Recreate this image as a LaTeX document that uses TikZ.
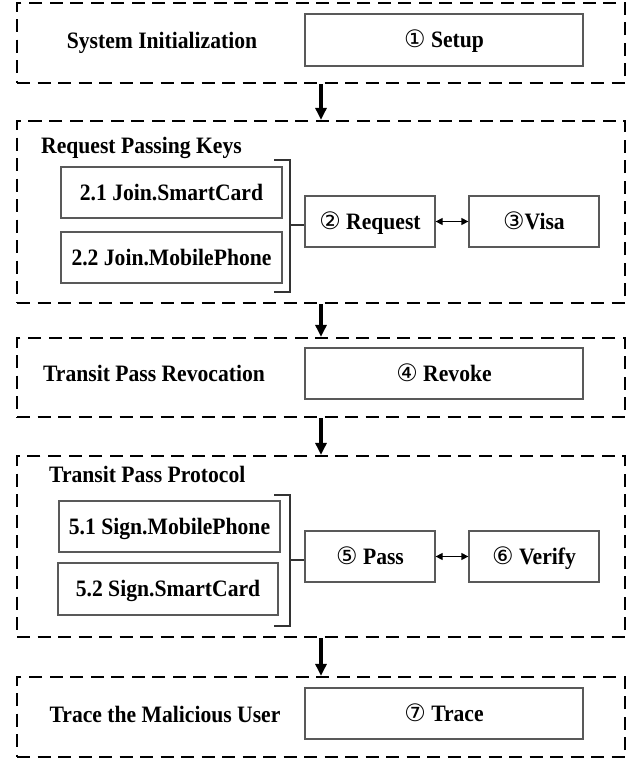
\documentclass[tikz,border=0pt]{standalone}
\usepackage{fontspec}
\setmainfont{Liberation Serif}[FakeStretch=0.92]
\newfontfamily\circfont{DejaVu Sans}
\usetikzlibrary{arrows.meta}
\newcommand{\cn}[1]{{\circfont\mdseries\fontsize{24}{26}\selectfont #1}}
\begin{document}
\begin{tikzpicture}[x=1pt,y=-1pt,
  phase/.style={draw, line width=2.3pt, dash pattern=on 13pt off 7.5pt, minimum width=608pt, inner sep=0pt},
  op/.style={draw=black!65, line width=1.3pt, fill=white, inner sep=0pt, minimum height=51pt, text height=15pt, text depth=0pt, font=\fontsize{23.5}{26}\selectfont\bfseries},
  lbl/.style={font=\fontsize{23.5}{26}\selectfont\bfseries, inner sep=0pt},
  flow/.style={line width=3.2pt, -{Triangle[length=12pt,width=11pt]}},
  dbl/.style={line width=1.3pt, {Triangle[length=7pt,width=7pt]}-{Triangle[length=7pt,width=7pt]}},
  brk/.style={line width=1.3pt, draw=black!80}]
\useasboundingbox (0,0) rectangle (643,764);
% phases
\node[phase, minimum height=80pt]  (p1) at (321,43) {};
\node[phase, minimum height=182pt] (p2) at (321,212) {};
\node[phase, minimum height=79pt]  (p3) at (321,377.5) {};
\node[phase, minimum height=181pt] (p4) at (321,546.5) {};
\node[phase, minimum height=80pt]  (p5) at (321,717) {};
% labels
\node[lbl, anchor=base] (t1) at (162,48) {System Initialization};
\node[lbl, anchor=base west] (t2) at (41,153) {Request Passing Keys};
\node[lbl, anchor=base] (t3) at (154,381) {Transit Pass Revocation};
\node[lbl, anchor=base west] (t4) at (49,482) {Transit Pass Protocol};
\node[lbl, anchor=base] (t5) at (165,722) {Trace the Malicious User};
% operations
\node[op, minimum width=278pt, minimum height=52pt] (setup) at (444,40) {\cn{①} Setup};
\node[op, minimum width=221pt] (sc) at (171.5,192.5) {2.1 Join.SmartCard};
\node[op, minimum width=221pt] (mp) at (171.5,257.5) {2.2 Join.MobilePhone};
\node[op, minimum width=130pt] (req) at (370,221.5) {\cn{②} Request};
\node[op, minimum width=130pt] (visa) at (534,221.5) {\cn{③}Visa};
\node[op, minimum width=278pt] (revoke) at (444,373.5) {\cn{④} Revoke};
\node[op, minimum width=221pt] (s51) at (169.5,526.5) {5.1 Sign.MobilePhone};
\node[op, minimum width=220pt, minimum height=52pt] (s52) at (168,589) {5.2 Sign.SmartCard};
\node[op, minimum width=130pt] (pass) at (370,556.5) {\cn{⑤} Pass};
\node[op, minimum width=130pt] (verify) at (534,556.5) {\cn{⑥} Verify};
\node[op, minimum width=278pt] (trace) at (444,713.5) {\cn{⑦} Trace};
% flow arrows
\draw[flow] (p1.south) -- (p2.north);
\draw[flow] (p2.south) -- (p3.north);
\draw[flow] (p3.south) -- (p4.north);
\draw[flow] (p4.south) -- (p5.north);
% brackets
\coordinate (k2t) at (290,160);
\coordinate (k2b) at (290,292);
\coordinate (k2m) at (290,225);
\draw[brk] ([xshift=-16pt]k2t) -- (k2t) -- (k2b) -- ([xshift=-16pt]k2b);
\draw[brk] (k2m) -- (k2m -| req.west);
\coordinate (k4t) at (290,495);
\coordinate (k4b) at (290,626);
\coordinate (k4m) at (290,560);
\draw[brk] ([xshift=-16pt]k4t) -- (k4t) -- (k4b) -- ([xshift=-16pt]k4b);
\draw[brk] (k4m) -- (k4m -| pass.west);
% double arrows
\draw[dbl] (req) -- (visa);
\draw[dbl] (pass) -- (verify);
\end{tikzpicture}
\end{document}
